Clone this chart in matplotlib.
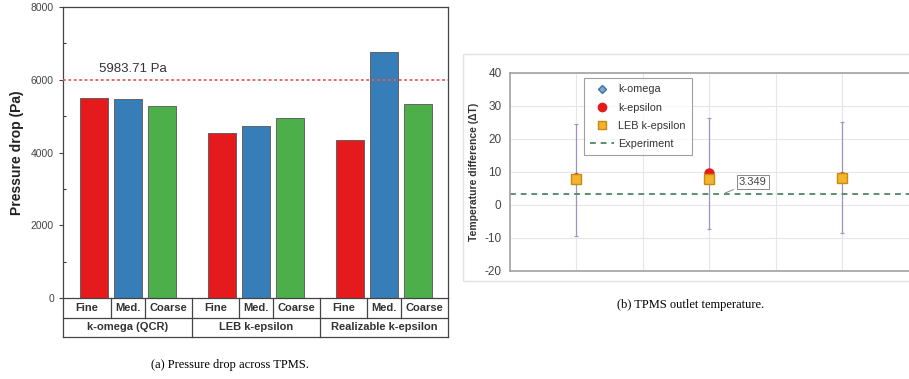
import matplotlib.pyplot as plt
import matplotlib.patches as mpatches
from matplotlib.lines import Line2D
import numpy as np

# ---- data: (a) pressure drop ----
models = ['k-omega (QCR)', 'LEB k-epsilon', 'Realizable k-epsilon']
meshes = ['Fine', 'Med.', 'Coarse']
dp_values = [5500, 5460, 5270,
             4550, 4730, 4960,
             4340, 6770, 5320]
dp_ref = 5983.71

# ---- data: (b) outlet temperature ----
cases = [1, 2, 3]
t_komega = [8.5, 9.0, 8.6]
t_keps = [8.2, 9.7, 8.5]
t_leb = [7.8, 8.0, 8.2]
err_low = [-9.3, -7.3, -8.5]
err_high = [24.5, 26.5, 25.3]
t_exp = 3.349

plt.rcParams['font.family'] = ['Liberation Sans', 'DejaVu Sans']
plt.rcParams['axes.unicode_minus'] = False
bar_colors = ['#e41a1c', '#377eb8', '#4daf4a']

fig = plt.figure(figsize=(9.09, 3.79), dpi=100)

# chart-area frame of the right panel (drawn first, behind)
fig.patches.append(mpatches.Rectangle((463 / 909, 1 - 281 / 379), 0.5, (281 - 54) / 379,
                                      transform=fig.transFigure, facecolor='white',
                                      edgecolor='#e2e2e2', linewidth=1.0, zorder=-5))

# ---------- left panel ----------
gap = 60 / 34 + 2
xpos = [g * gap + i for g in range(3) for i in range(3)]
ax = fig.add_axes([0.0693, 0.2137, 0.4235, 0.7678])
ax.bar(xpos, dp_values, width=0.82, color=bar_colors * 3,
       edgecolor='#555555', linewidth=0.6, zorder=2)
ax.axhline(dp_ref, color='#e8595c', linestyle=(0, (1.5, 1.5)), linewidth=1.3, zorder=3)
ax.text(0.15, dp_ref + 150, '5983.71 Pa', fontsize=9.5, color='#333333', va='bottom')
xl = (xpos[0] - 0.9, xpos[-1] + 0.88)
ax.set_xlim(xl)
ax.set_ylim(0, 8000)
ax.set_yticks([0, 2000, 4000, 6000, 8000])
ax.set_yticks(np.arange(1000, 8000, 2000), minor=True)
ax.tick_params(axis='y', labelsize=7.5, labelcolor='#444444', length=3, color='#444444')
ax.tick_params(axis='y', which='minor', direction='in', length=2)
ax.set_xticks([])
ax.set_ylabel('Pressure drop (Pa)', fontsize=10, fontweight='bold', color='#222222', labelpad=5)
for s in ax.spines.values():
    s.set_color('#444444')
    s.set_linewidth(0.9)

# table of labels under the bars
tab = fig.add_axes([0.0693, 0.1108, 0.4235, 0.1029])
tab.set_xlim(xl)
tab.set_ylim(0, 2)
tab.axis('off')
lc = '#444444'


def tline(xs, ys):
    tab.plot(xs, ys, color=lc, lw=0.9, clip_on=False, solid_capstyle='projecting')


edges = [xl[0]] + [(xpos[k] + xpos[k + 1]) / 2 for k in range(len(xpos) - 1)] + [xl[1]]
tline([xl[0], xl[1]], [1, 1])
tline([xl[0], xl[1]], [0, 0])
for k, xb in enumerate(edges):
    if k % 3 == 0:
        tline([xb, xb], [0, 2])
    else:
        tline([xb, xb], [1, 2])
for k in range(len(xpos)):
    tab.text((edges[k] + edges[k + 1]) / 2, 1.5, meshes[k % 3], ha='center', va='center',
             fontsize=8, fontweight='bold', color='#333333')
for g, m in enumerate(models):
    tab.text((edges[g * 3] + edges[g * 3 + 3]) / 2, 0.5, m, ha='center', va='center',
             fontsize=8, fontweight='bold', color='#333333')

fig.text(0.253, 0.037, '(a) Pressure drop across TPMS.', ha='center', va='center',
         fontsize=9, family='Liberation Serif')

# ---------- right panel ----------
bx = fig.add_axes([0.561, 0.285, 0.439, 0.5224])
bx.set_xlim(0.5, 3.5)
bx.set_ylim(-20, 40)
bx.set_yticks(range(-20, 41, 10))
bx.set_xticks([1, 1.5, 2, 2.5, 3])
bx.set_xticklabels([])
bx.grid(True, color='#e6e6e6', linewidth=0.8)
bx.set_axisbelow(True)
bx.tick_params(length=0, labelsize=8.5, labelcolor='#444444', pad=6)
for side in ['left', 'bottom', 'top']:
    bx.spines[side].set_color('#a8a8a8')
    bx.spines[side].set_linewidth(1.3)
bx.spines['right'].set_visible(False)
bx.set_ylabel('Temperature difference (ΔT)', fontsize=7.5, fontweight='bold',
              color='#333333', labelpad=4)

mid = np.array(t_leb)
yerr = [mid - np.array(err_low), np.array(err_high) - mid]
bx.errorbar(cases, mid, yerr=yerr, fmt='none', ecolor='#9a96c0', elinewidth=0.9,
            capsize=1.5, capthick=0.8, zorder=2)
bx.axhline(t_exp, color='#5a8f6e', linestyle=(0, (3, 2.5)), linewidth=1.4, zorder=2)
bx.plot(cases, t_komega, linestyle='none', marker='D', markersize=4,
        markerfacecolor='#7fa6cf', markeredgecolor='#3f6fa5', zorder=3)
bx.plot(cases, t_keps, linestyle='none', marker='o', markersize=6.5,
        color='#e31a1c', zorder=4)
bx.plot(cases, t_leb, linestyle='none', marker='s', markersize=6.5,
        markerfacecolor='#f4b42c', markeredgecolor='#c98a10', zorder=5)

bx.annotate('3.349', xy=(2.1, t_exp), xytext=(2.22, 7.0), fontsize=8, color='#444444',
            ha='left', va='center',
            bbox=dict(boxstyle='square,pad=0.2', facecolor='white', edgecolor='#888888', lw=0.7),
            arrowprops=dict(arrowstyle='-', color='#888888', lw=0.7))

handles = [
    Line2D([], [], linestyle='none', marker='D', markersize=4,
           markerfacecolor='#7fa6cf', markeredgecolor='#3f6fa5'),
    Line2D([], [], linestyle='none', marker='o', markersize=6, color='#e31a1c'),
    Line2D([], [], linestyle='none', marker='s', markersize=6,
           markerfacecolor='#f4b42c', markeredgecolor='#c98a10'),
    Line2D([], [], color='#5a8f6e', linestyle=(0, (3, 2.5)), linewidth=1.4),
]
leg = bx.legend(handles, ['k-omega', 'k-epsilon', 'LEB k-epsilon', 'Experiment'],
                loc='upper left', bbox_to_anchor=(0.185, 0.975), borderaxespad=0,
                fontsize=7.8, frameon=True, fancybox=False, edgecolor='#888888',
                handlelength=2.2, labelspacing=0.75, borderpad=0.6, handletextpad=0.4)
leg.get_frame().set_linewidth(0.8)
for t in leg.get_texts():
    t.set_color('#333333')

fig.text(0.76, 0.195, '(b) TPMS outlet temperature.', ha='center', va='center',
         fontsize=9, family='Liberation Serif')

fig.savefig('out.png', dpi=100)
